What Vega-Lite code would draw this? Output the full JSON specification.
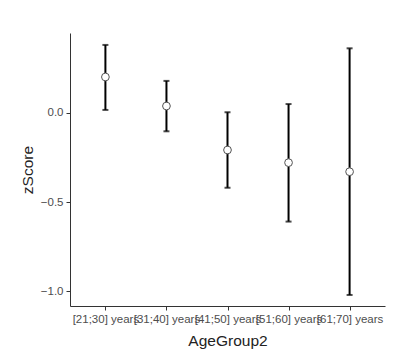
{
  "$schema": "https://vega.github.io/schema/vega-lite/v6.json",
  "width": 315,
  "height": 273,
  "autosize": {"type": "none"},
  "padding": {"left": 70, "top": 33, "right": 15, "bottom": 47},
  "background": "white",
  "config": {
    "view": {"stroke": null},
    "font": "Liberation Sans",
    "axis": {
      "grid": false,
      "domainColor": "#333333",
      "domainWidth": 1,
      "tickColor": "#333333",
      "tickSize": 4,
      "labelColor": "#4d4d4d",
      "labelFontSize": 11.5,
      "labelFont": "Liberation Sans",
      "titleFont": "Liberation Sans",
      "titleFontSize": 15.5,
      "titleFontWeight": "normal",
      "titleColor": "#222222",
      "labelPadding": 3
    }
  },
  "data": {
    "values": [
      {"AgeGroup2": "[21;30] years", "zScore": 0.202, "lower": 0.017, "upper": 0.382},
      {"AgeGroup2": "[31;40] years", "zScore": 0.039, "lower": -0.103, "upper": 0.180},
      {"AgeGroup2": "[41;50] years", "zScore": -0.208, "lower": -0.420, "upper": 0.004},
      {"AgeGroup2": "[51;60] years", "zScore": -0.279, "lower": -0.610, "upper": 0.050},
      {"AgeGroup2": "[61;70] years", "zScore": -0.330, "lower": -1.022, "upper": 0.363}
    ]
  },
  "encoding": {
    "x": {
      "field": "AgeGroup2",
      "type": "nominal",
      "scale": {"type": "point", "padding": 0.58},
      "axis": {"labelAngle": 0, "labelOverlap": false, "title": "AgeGroup2", "titlePadding": 9}
    }
  },
  "layer": [
    {
      "mark": {"type": "rule", "color": "black", "strokeWidth": 2},
      "encoding": {
        "y": {
          "field": "lower",
          "type": "quantitative",
          "scale": {"domain": [-1.084, 0.449], "nice": false, "zero": false},
          "axis": {"values": [-1, -0.5, 0], "format": ".1f", "title": "zScore", "titlePadding": 5}
        },
        "y2": {"field": "upper"}
      }
    },
    {
      "mark": {"type": "tick", "color": "black", "size": 6, "thickness": 2, "orient": "horizontal"},
      "encoding": {"y": {"field": "lower", "type": "quantitative"}}
    },
    {
      "mark": {"type": "tick", "color": "black", "size": 6, "thickness": 2, "orient": "horizontal"},
      "encoding": {"y": {"field": "upper", "type": "quantitative"}}
    },
    {
      "mark": {"type": "point", "filled": true, "fill": "white", "stroke": "#555555", "strokeWidth": 1, "size": 60, "opacity": 1},
      "encoding": {"y": {"field": "zScore", "type": "quantitative"}}
    }
  ]
}
